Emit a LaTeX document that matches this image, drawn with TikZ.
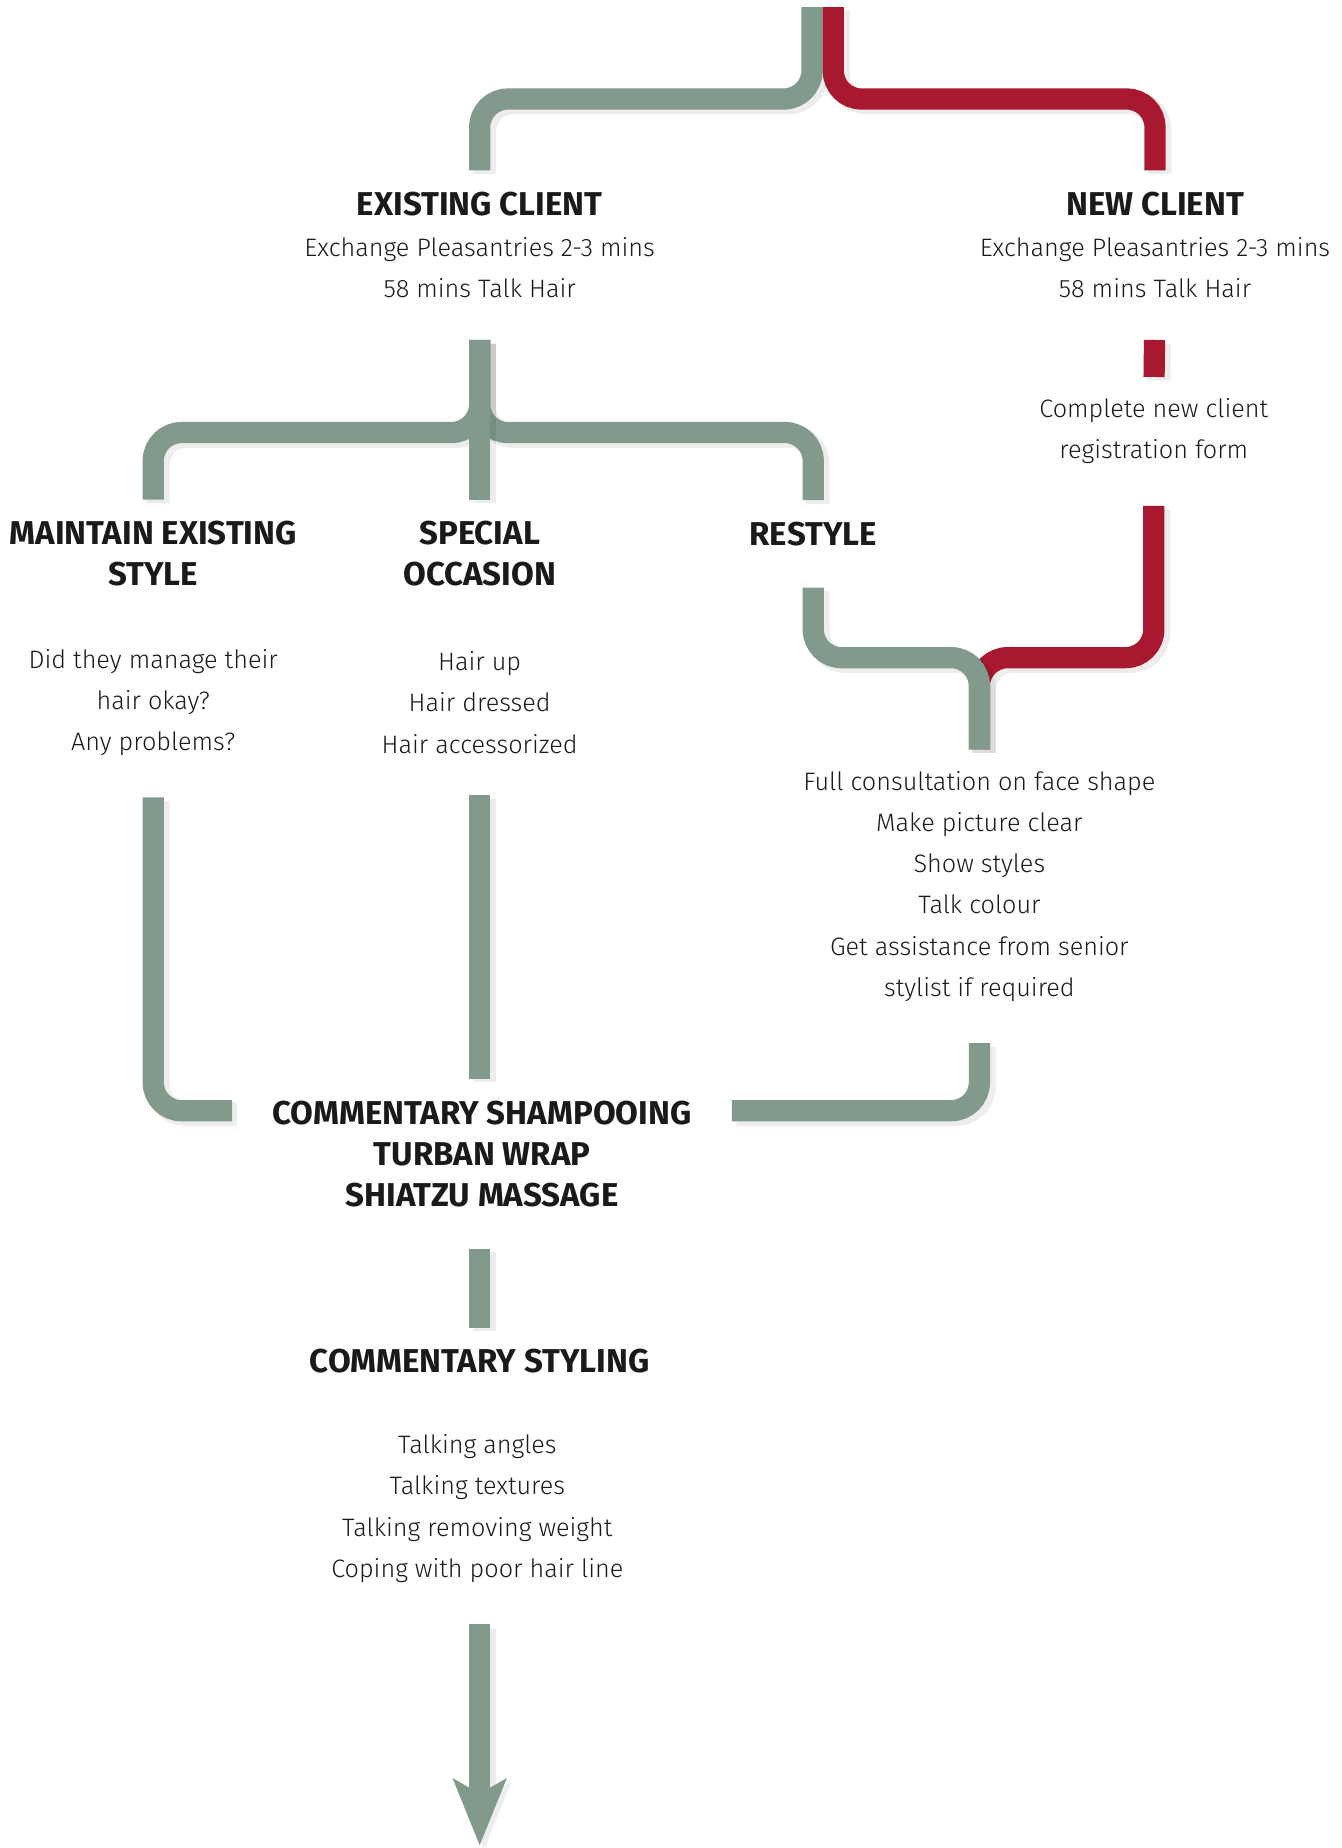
\documentclass[tikz,border=0pt]{standalone}
\usepackage{fontspec}
\IfFontExistsTF{Fira Sans Light}
  {\setmainfont{Fira Sans Light}[BoldFont=Fira Sans Bold]}
  {\setmainfont{Fira Sans}}
\usetikzlibrary{arrows.meta,positioning,calc}
\definecolor{sage}{HTML}{819A8B}
\definecolor{wine}{HTML}{A8182F}
\definecolor{ink}{HTML}{1A1A1A}
\newcommand{\hd}[1]{{\fontsize{14}{17.5}\selectfont\bfseries #1}}
\tikzset{
  txt/.style={align=center,font=\fontsize{10.7}{17.5}\selectfont,text=ink,inner sep=0pt},
  head/.style={txt,font=\fontsize{14}{17.5}\selectfont\bfseries},
  band/.style={line width=9pt,rounded corners=12pt,
    preaction={draw=black,draw opacity=.07,line width=10pt,
      transform canvas={shift={(2pt,-1.5pt)}}}},
  sageband/.style={band,draw=sage},
  wineband/.style={band,draw=wine},
  outof/.style={shorten <=17.5pt},
  into/.style={shorten >=9pt}
}
\begin{document}
\begin{tikzpicture}[x=0.5pt,y=0.5pt]
  \useasboundingbox (0,0) rectangle (1138,-1568);
  % fixed points of the bands
  \coordinate (top) at (698,-6);
  \coordinate (topfork) at (698,-84);
  \coordinate (fork) at (407,-367);
  \coordinate (merge) at (831,-558);
  \coordinate (tip) at (407,-1566);
  % texts
  \node[txt] (exist) at (407,-208) {\hd{EXISTING CLIENT}\\Exchange Pleasantries 2-3 mins\\58 mins Talk Hair};
  \node[txt] (new) at (980,-208) {\hd{NEW CLIENT}\\Exchange Pleasantries 2-3 mins\\58 mins Talk Hair};
  \node[txt] (form) at (979,-366) {Complete new client\\registration form};
  \node[head] (mainhd) at (130,-470) {MAINTAIN EXISTING\\STYLE};
  \node[head] (spechd) at (407,-470) {SPECIAL\\OCCASION};
  \node[head] (restyle) at (690,-453) {RESTYLE};
  \node[txt] (mainbd) at (130,-596) {Did they manage their\\hair okay?\\Any problems?};
  \node[txt] (specbd) at (407,-596) {Hair up\\Hair dressed\\Hair accessorized};
  \node[txt] (consult) at (831,-752) {Full consultation on face shape\\Make picture clear\\Show styles\\Talk colour\\Get assistance from senior\\stylist if required};
  \node[head,inner xsep=8pt] (shampoo) at (409,-979) {COMMENTARY SHAMPOOING\\TURBAN WRAP\\SHIATZU MASSAGE};
  \node[head] (stylhd) at (407,-1155) {COMMENTARY STYLING};
  \node[txt] (stylbd) at (405,-1280) {Talking angles\\Talking textures\\Talking removing weight\\Coping with poor hair line};
  % existing client, first split
  \draw[sageband,into] ([xshift=-4.5pt]top) -- ([xshift=-4.5pt]topfork) -| (exist.north);
  % new client route
  \draw[wineband,into] ([xshift=4.5pt]top) -- ([xshift=4.5pt]topfork) -| (new.north);
  \draw[wineband,outof,into] (new.south) -- (form.north);
  \draw[wineband,outof,into] (form.south) |- (merge) -- (consult.north);
  % existing client route
  \draw[sageband,outof,into] (exist.south) -- (fork) -| (mainhd.north);
  \draw[sageband,outof,into] (exist.south) -- (fork) -| (restyle.north);
  \draw[sageband,outof,into] (exist.south) -- (spechd.north);
  \draw[sageband,outof,into] (restyle.south) |- (merge) -- (consult.north);
  \draw[sageband,outof,into] (mainbd.south) |- ([yshift=-4.5pt]shampoo.north west);
  \draw[sageband,outof,into] (specbd.south) -- (specbd.south |- shampoo.north);
  \draw[sageband,outof,into] (consult.south) |- ([yshift=-4.5pt]shampoo.north east);
  \draw[sageband,outof,into] (shampoo.south -| stylhd.north) -- (stylhd.north);
  \draw[sageband,outof,-{Stealth[length=28pt,width=22pt,inset=6pt]}] (stylbd.south -| tip) -- (tip);
\end{tikzpicture}
\end{document}
